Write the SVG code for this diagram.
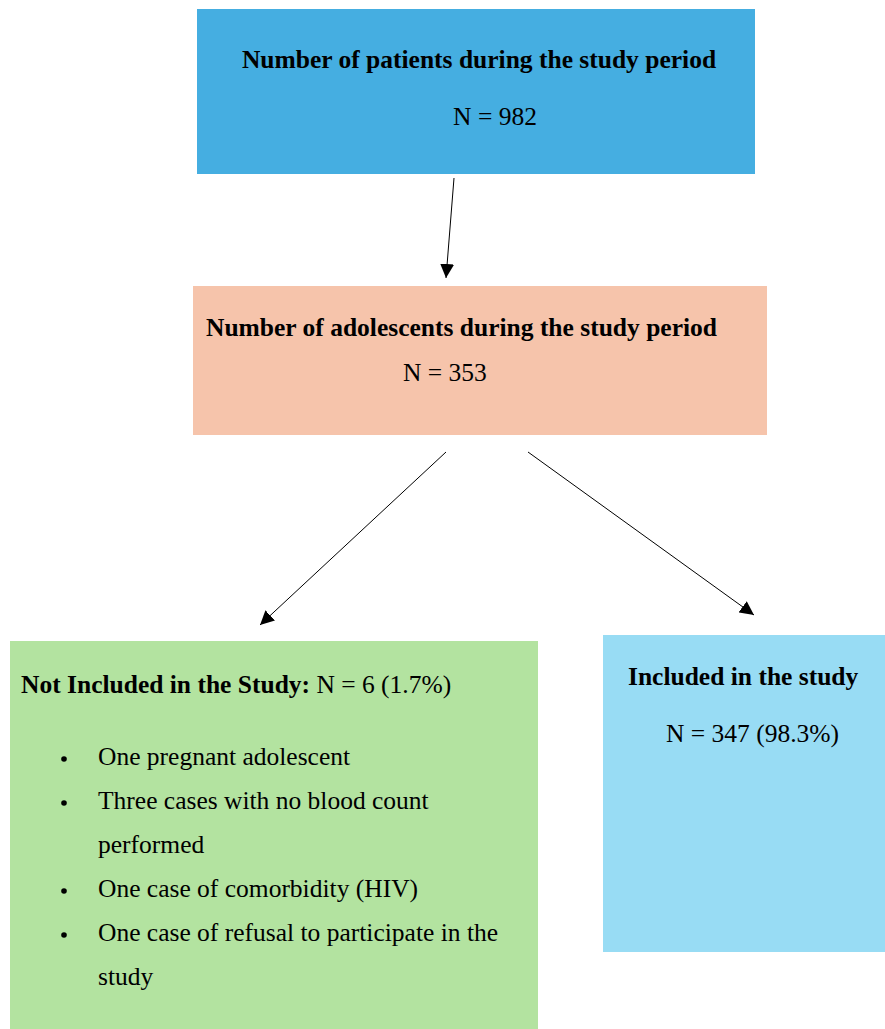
<svg xmlns="http://www.w3.org/2000/svg" width="885" height="1029" viewBox="0 0 885 1029">
<style>
text{font-family:"Liberation Serif","Times New Roman",serif;font-size:25.5px;fill:#000}
.b{font-weight:bold}
.c{stroke:#000;stroke-width:1;fill:none}
</style>
<defs>
<marker id="ah" viewBox="0 0 10 10" refX="10" refY="5" markerWidth="14" markerHeight="14" markerUnits="userSpaceOnUse" orient="auto">
<path d="M0,0 L10,5 L0,10 z" fill="#000"/>
</marker>
</defs>
<rect width="885" height="1029" fill="#fff"/>
<g id="n1">
<rect x="197" y="9" width="558" height="165" fill="#45AEE1"/>
<text class="b" x="479" y="68" text-anchor="middle">Number of patients during the study period</text>
<text x="495" y="125" text-anchor="middle">N = 982</text>
</g>
<g id="n2">
<rect x="193" y="286" width="574" height="149" fill="#F6C4AB"/>
<text class="b" x="206" y="336">Number of adolescents during the study period</text>
<text x="403" y="381">N = 353</text>
</g>
<g id="n3">
<rect x="10" y="641" width="528" height="388" fill="#B3E3A0"/>
<text x="21" y="693"><tspan class="b">Not Included in the Study:</tspan> N = 6 (1.7%)</text>
<g>
<circle cx="64" cy="759" r="2.8" fill="#000"/>
<circle cx="64" cy="803" r="2.8" fill="#000"/>
<circle cx="64" cy="891" r="2.8" fill="#000"/>
<circle cx="64" cy="935" r="2.8" fill="#000"/>
</g>
<text x="98" y="765">One pregnant adolescent</text>
<text x="98" y="809">Three cases with no blood count</text>
<text x="98" y="853">performed</text>
<text x="98" y="897">One case of comorbidity (HIV)</text>
<text x="98" y="941">One case of refusal to participate in the</text>
<text x="98" y="985">study</text>
</g>
<g id="n4">
<rect x="603" y="635" width="282" height="317" fill="#98DCF4"/>
<text class="b" x="628" y="685">Included in the study</text>
<text x="666" y="742">N = 347 (98.3%)</text>
</g>
<g id="connectors">
<line class="c" x1="454" y1="178" x2="446" y2="278" marker-end="url(#ah)"/>
<line class="c" x1="446" y1="452" x2="260" y2="625" marker-end="url(#ah)"/>
<line class="c" x1="528" y1="452" x2="754" y2="615" marker-end="url(#ah)"/>
</g>
</svg>
